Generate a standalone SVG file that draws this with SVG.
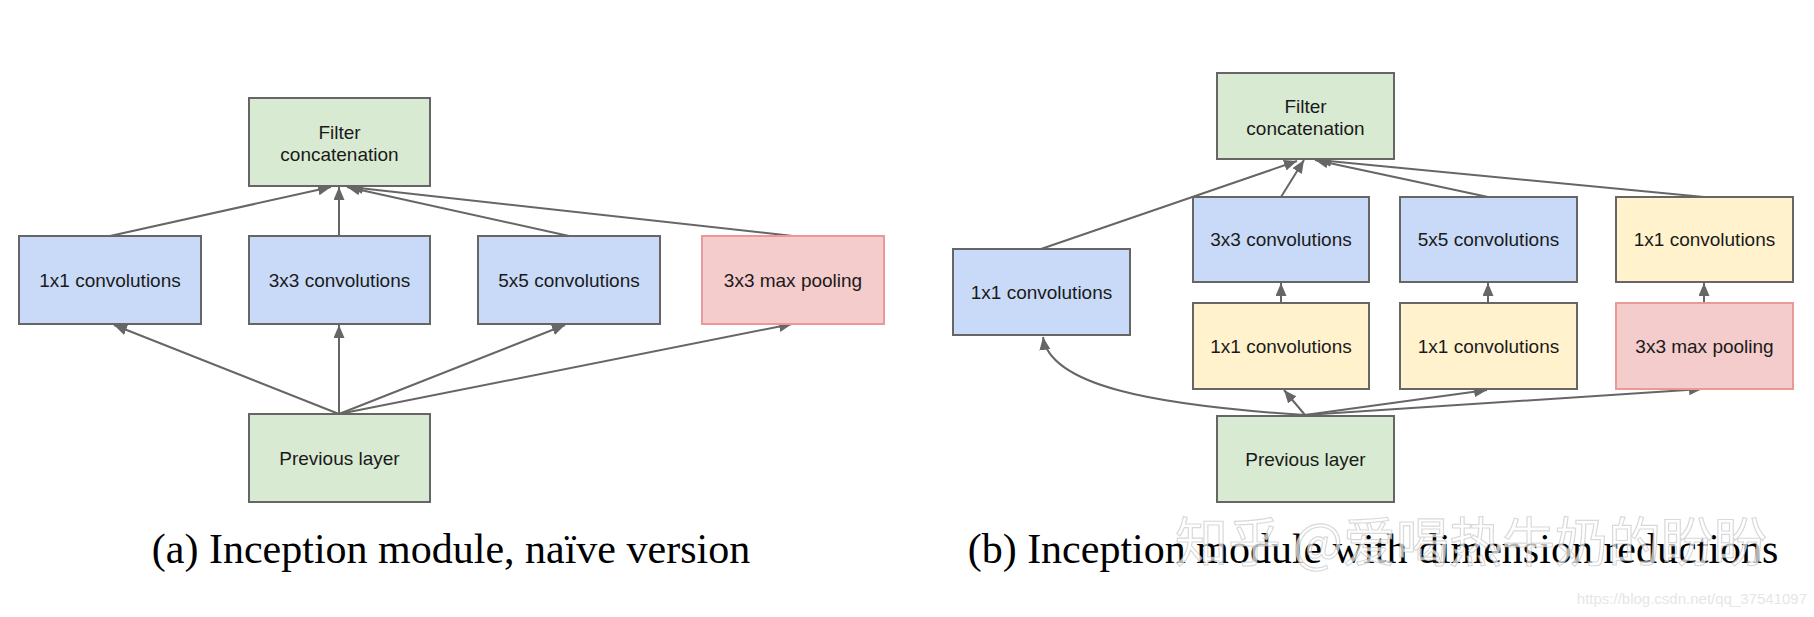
<svg xmlns="http://www.w3.org/2000/svg" width="1814" height="617" viewBox="0 0 1814 617">
<defs>
<marker id="ah" markerUnits="userSpaceOnUse" markerWidth="14" markerHeight="12" refX="13" refY="5.5" orient="auto">
<path d="M0,0 L13,5.5 L0,11 Z" fill="#666"/>
</marker>
<style>
.box{stroke:#666;stroke-width:2}
.blue{fill:#c9daf8}
.green{fill:#d9ead3}
.yellow{fill:#fff2cc}
.red{fill:#f4cccc;stroke:#ea9999;stroke-width:2}
.lbl{font-family:"Liberation Sans",Arial,sans-serif;font-size:19px;fill:#1a1a1a;text-anchor:middle}
.cap{font-family:"Liberation Serif","Times New Roman",serif;font-size:42px;fill:#000;text-anchor:middle}
.conn{fill:none;stroke:#666;stroke-width:2;marker-end:url(#ah)}
</style>
</defs>
<rect width="1814" height="617" fill="#fff"/>

<g id="connectors">
<!-- (a) top -->
<line class="conn" x1="110" y1="236" x2="331" y2="187"/>
<line class="conn" x1="339" y1="236" x2="339" y2="187"/>
<line class="conn" x1="569" y1="236" x2="347" y2="187"/>
<line class="conn" x1="793" y1="236" x2="350" y2="187"/>
<!-- (a) bottom -->
<line class="conn" x1="339" y1="414" x2="114" y2="325"/>
<line class="conn" x1="339" y1="414" x2="339" y2="325"/>
<line class="conn" x1="339" y1="414" x2="565" y2="325"/>
<line class="conn" x1="339" y1="414" x2="792" y2="324"/>
<!-- (b) top -->
<line class="conn" x1="1041" y1="249" x2="1297" y2="161"/>
<line class="conn" x1="1281" y1="197" x2="1304" y2="160"/>
<line class="conn" x1="1488" y1="197" x2="1315" y2="160"/>
<line class="conn" x1="1704" y1="197" x2="1318" y2="160"/>
<!-- (b) middle -->
<line class="conn" x1="1281" y1="303" x2="1281" y2="283"/>
<line class="conn" x1="1488" y1="303" x2="1488" y2="283"/>
<line class="conn" x1="1704" y1="303" x2="1704" y2="283"/>
<!-- (b) bottom -->
<path class="conn" d="M1305,415 C1150,405 1050,385 1043,337"/>
<line class="conn" x1="1305" y1="415" x2="1284" y2="390"/>
<line class="conn" x1="1305" y1="415" x2="1487" y2="390"/>
<line class="conn" x1="1305" y1="415" x2="1702" y2="389"/>
</g>

<!-- (a) naive version -->
<g id="a-filter">
<rect class="box green" x="249" y="98" width="181" height="88"/>
<text class="lbl" x="339.5" y="139">Filter</text>
<text class="lbl" x="339.5" y="161">concatenation</text>
</g>
<g id="a-conv1">
<rect class="box blue" x="19" y="236" width="182" height="88"/>
<text class="lbl" x="110" y="287">1x1 convolutions</text>
</g>
<g id="a-conv3">
<rect class="box blue" x="249" y="236" width="181" height="88"/>
<text class="lbl" x="339.5" y="287">3x3 convolutions</text>
</g>
<g id="a-conv5">
<rect class="box blue" x="478" y="236" width="182" height="88"/>
<text class="lbl" x="569" y="287">5x5 convolutions</text>
</g>
<g id="a-pool">
<rect class="red" x="702" y="236" width="182" height="88"/>
<text class="lbl" x="793" y="287">3x3 max pooling</text>
</g>
<g id="a-prev">
<rect class="box green" x="249" y="414" width="181" height="88"/>
<text class="lbl" x="339.5" y="465">Previous layer</text>
</g>

<!-- (b) with dimension reductions -->
<g id="b-filter">
<rect class="box green" x="1217" y="73" width="177" height="86"/>
<text class="lbl" x="1305.5" y="113">Filter</text>
<text class="lbl" x="1305.5" y="135">concatenation</text>
</g>
<g id="b-conv1">
<rect class="box blue" x="953" y="249" width="177" height="86"/>
<text class="lbl" x="1041.5" y="299">1x1 convolutions</text>
</g>
<g id="b-conv3">
<rect class="box blue" x="1193" y="197" width="176" height="85"/>
<text class="lbl" x="1281" y="246">3x3 convolutions</text>
</g>
<g id="b-conv5">
<rect class="box blue" x="1400" y="197" width="177" height="85"/>
<text class="lbl" x="1488.5" y="246">5x5 convolutions</text>
</g>
<g id="b-poolproj">
<rect class="box yellow" x="1616" y="197" width="177" height="85"/>
<text class="lbl" x="1704.5" y="246">1x1 convolutions</text>
</g>
<g id="b-reduce3">
<rect class="box yellow" x="1193" y="303" width="176" height="86"/>
<text class="lbl" x="1281" y="353">1x1 convolutions</text>
</g>
<g id="b-reduce5">
<rect class="box yellow" x="1400" y="303" width="177" height="86"/>
<text class="lbl" x="1488.5" y="353">1x1 convolutions</text>
</g>
<g id="b-pool">
<rect class="red" x="1616" y="303" width="177" height="86"/>
<text class="lbl" x="1704.5" y="353">3x3 max pooling</text>
</g>
<g id="b-prev">
<rect class="box green" x="1217" y="416" width="177" height="86"/>
<text class="lbl" x="1305.5" y="466">Previous layer</text>
</g>

<g id="captions">
<text class="cap" x="451" y="563">(a) Inception module, naïve version</text>
<text class="cap" x="1373" y="563">(b) Inception module with dimension reductions</text>
</g>
<g id="watermarks">
<text x="1471" y="562" text-anchor="middle" font-family="'Noto Sans CJK SC',sans-serif" font-size="53" fill="#ffffff" fill-opacity="0.7" stroke="#aaaaaa" stroke-opacity="0.45" stroke-width="1.2">知乎 @爱喝热牛奶的盼盼</text>
<text x="1807" y="604" text-anchor="end" font-family="'Liberation Sans',Arial,sans-serif" font-size="15" fill="#e6e6e6">https://blog.csdn.net/qq_37541097</text>
</g>
</svg>
